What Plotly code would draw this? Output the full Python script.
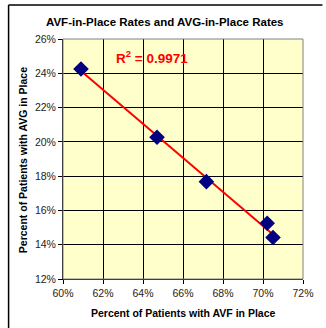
import plotly.graph_objects as go

avf = [60.9, 64.7, 67.17, 70.21, 70.5]
avg = [24.25, 20.27, 17.68, 15.25, 14.42]
trend_x = [60.9, 70.5]
x_ticks = [60, 62, 64, 66, 68, 70, 72]
y_ticks = [12, 14, 16, 18, 20, 22, 24, 26]
r2_label = "0.9971"

# least-squares trendline computed from the data
n = len(avf)
mx = sum(avf) / n
my = sum(avg) / n
slope = sum((a - mx) * (b - my) for a, b in zip(avf, avg)) / sum((a - mx) ** 2 for a in avf)
intercept = my - slope * mx
trend_y = [slope * v + intercept for v in trend_x]

W, H = 326, 328
L, R, T, B = 63, 16, 39, 49
pw, ph = W - L - R, H - T - B

def px(xp):
    return (xp - L) / pw

def py(yp):
    return (H - B - yp) / ph

font = "Liberation Sans, Arial, sans-serif"
fig = go.Figure()
fig.add_trace(go.Scatter(x=trend_x, y=trend_y, mode="lines", line=dict(color="#FF0000", width=2), hoverinfo="skip"))
fig.add_trace(go.Scatter(x=avf, y=avg, mode="markers",
                         marker=dict(symbol="diamond", size=12, color="#000080", line=dict(width=0))))

axis_common = dict(showline=True, linecolor="#000000", linewidth=1, mirror=False,
                   ticks="outside", ticklen=4, tickcolor="#000000",
                   showgrid=True, gridcolor="#000000", gridwidth=1, zeroline=False,
                   tickfont=dict(family=font, size=10.5, color="#222222"))
fig.update_xaxes(range=[60, 72], tickvals=x_ticks, ticktext=[f"{v}%" for v in x_ticks], **axis_common)
fig.update_yaxes(range=[12, 26], tickvals=y_ticks, ticktext=[f"{v}%" for v in y_ticks], **axis_common)

fig.update_layout(
    width=W, height=H, margin=dict(l=L, r=R, t=T, b=B),
    paper_bgcolor="#FFFFFF", plot_bgcolor="#FFFFCC", showlegend=False,
    shapes=[
        dict(type="rect", xref="paper", yref="paper", x0=0, x1=1, y0=0, y1=1,
             line=dict(color="#808080", width=1)),
        dict(type="line", xref="paper", yref="paper", x0=px(7), x1=px(7), y0=py(5), y1=py(330),
             line=dict(color="#000000", width=1.5)),
        dict(type="line", xref="paper", yref="paper", x0=px(7), x1=px(330), y0=py(5), y1=py(5),
             line=dict(color="#000000", width=1.5)),
    ],
    annotations=[
        dict(text="<b>AVF-in-Place Rates and AVG-in-Place Rates</b>", xref="paper", yref="paper",
             x=px(168), y=py(22), xanchor="center", yanchor="middle", showarrow=False,
             font=dict(family=font, size=11.5, color="#000000")),
        dict(text=f"<b>R<sup>2</sup> = {r2_label}</b>", xref="paper", yref="paper",
             x=px(155), y=py(57), xanchor="center", yanchor="middle", showarrow=False,
             font=dict(family=font, size=13.5, color="#FF0000")),
        dict(text="<b>Percent of Patients with AVF in Place</b>", xref="paper", yref="paper",
             x=px(187), y=py(313), xanchor="center", yanchor="middle", showarrow=False,
             font=dict(family=font, size=10.5, color="#000000")),
        dict(text="<b>Percent of Patients with AVG in Place</b>", xref="paper", yref="paper",
             x=px(22), y=py(160), xanchor="center", yanchor="middle", showarrow=False, textangle=-90,
             font=dict(family=font, size=10.5, color="#000000")),
    ],
)
fig.write_html("out.html", config={"displayModeBar": False},
               post_script="document.body.style.margin='0';document.body.style.overflow='hidden';")
